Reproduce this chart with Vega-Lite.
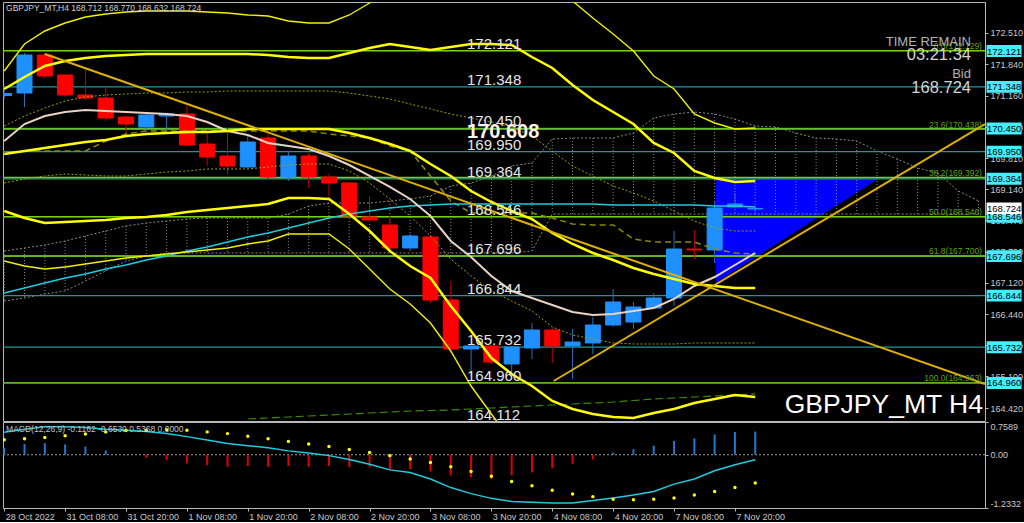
{
"$schema": "https://vega.github.io/schema/vega-lite/v6.json",
"background": "#000000",
"padding": {"left": 2, "top": 1, "right": 0, "bottom": 0},
"spacing": 1,
"bounds": "flush",
"config": {
  "view": {"stroke": "#b8b8b8", "strokeWidth": 1},
  "font": "Liberation Sans",
  "scale": {"continuousPadding": 0},
  "axis": {"labelFont": "Liberation Sans", "labelFontSize": 9, "labelColor": "#c8c8c8", "tickColor": "#b8b8b8", "domain": false, "grid": false, "tickSize": 3, "labelPadding": 2}
},
"datasets": {
  "candles": [
    {"k":-1,"o":171.150,"h":171.301,"l":171.086,"c":171.215},
    {"k":0,"o":171.215,"h":172.078,"l":170.913,"c":172.035},
    {"k":1,"o":172.035,"h":172.078,"l":171.539,"c":171.582},
    {"k":2,"o":171.603,"h":171.625,"l":171.129,"c":171.172},
    {"k":3,"o":171.172,"h":171.733,"l":171.064,"c":171.107},
    {"k":4,"o":171.107,"h":171.323,"l":170.611,"c":170.676},
    {"k":5,"o":170.697,"h":170.719,"l":170.331,"c":170.546},
    {"k":6,"o":170.482,"h":170.784,"l":170.439,"c":170.741},
    {"k":7,"o":170.719,"h":170.784,"l":170.331,"c":170.762},
    {"k":8,"o":170.762,"h":170.935,"l":170.072,"c":170.093},
    {"k":9,"o":170.115,"h":170.331,"l":169.640,"c":169.835},
    {"k":10,"o":169.856,"h":170.460,"l":169.468,"c":169.640},
    {"k":11,"o":169.619,"h":170.288,"l":169.576,"c":170.158},
    {"k":12,"o":170.244,"h":170.331,"l":169.360,"c":169.403},
    {"k":13,"o":169.403,"h":169.964,"l":169.317,"c":169.856},
    {"k":14,"o":169.856,"h":169.921,"l":169.166,"c":169.403},
    {"k":15,"o":169.403,"h":169.468,"l":168.950,"c":169.274},
    {"k":16,"o":169.274,"h":169.295,"l":168.519,"c":168.562},
    {"k":17,"o":168.540,"h":168.993,"l":168.432,"c":168.476},
    {"k":18,"o":168.368,"h":168.562,"l":167.764,"c":167.872},
    {"k":19,"o":167.872,"h":168.174,"l":167.829,"c":168.131},
    {"k":20,"o":168.109,"h":168.152,"l":166.685,"c":166.750},
    {"k":21,"o":166.750,"h":167.160,"l":165.607,"c":165.693},
    {"k":22,"o":165.693,"h":165.758,"l":165.111,"c":165.758},
    {"k":23,"o":165.758,"h":165.779,"l":165.370,"c":165.413},
    {"k":24,"o":165.370,"h":165.758,"l":165.175,"c":165.736},
    {"k":25,"o":165.715,"h":166.254,"l":165.477,"c":166.103},
    {"k":26,"o":166.103,"h":166.146,"l":165.391,"c":165.758},
    {"k":27,"o":165.758,"h":166.125,"l":165.046,"c":165.844},
    {"k":28,"o":165.823,"h":166.383,"l":165.585,"c":166.211},
    {"k":29,"o":166.211,"h":166.987,"l":166.168,"c":166.707},
    {"k":30,"o":166.275,"h":166.707,"l":166.125,"c":166.599},
    {"k":31,"o":166.578,"h":166.901,"l":166.556,"c":166.793},
    {"k":32,"o":166.793,"h":168.238,"l":166.621,"c":167.850},
    {"k":33,"o":167.850,"h":168.260,"l":167.634,"c":167.829},
    {"k":34,"o":167.829,"h":168.886,"l":167.548,"c":168.734},
    {"k":35,"o":168.756,"h":169.058,"l":168.734,"c":168.821},
    {"k":36,"o":168.712,"h":168.770,"l":168.632,"c":168.724}
  ],
  "ind": [
    {"k":-1,"L1":171.690,"L2":171.301,"L3":169.899,"L4":168.670,"L5":167.591,"P":170.180,"C":166.901,"D1":170.503,"D2":169.274,"DA":null,"DG":null},
    {"k":0,"L1":172.272,"L2":171.560,"L3":169.964,"L4":168.519,"L5":167.483,"P":170.546,"C":167.009,"D1":170.719,"D2":169.360,"DA":169.964,"DG":null},
    {"k":1,"L1":172.553,"L2":171.797,"L3":170.029,"L4":168.411,"L5":167.419,"P":170.719,"C":167.117,"D1":170.891,"D2":169.425,"DA":169.964,"DG":null},
    {"k":2,"L1":172.725,"L2":171.905,"L3":170.093,"L4":168.432,"L5":167.462,"P":170.805,"C":167.225,"D1":171.042,"D2":169.468,"DA":169.964,"DG":null},
    {"k":3,"L1":172.854,"L2":171.970,"L3":170.158,"L4":168.454,"L5":167.526,"P":170.848,"C":167.311,"D1":171.129,"D2":169.446,"DA":169.964,"DG":null},
    {"k":4,"L1":172.919,"L2":172.013,"L3":170.201,"L4":168.476,"L5":167.591,"P":170.827,"C":167.419,"D1":171.172,"D2":169.425,"DA":170.180,"DG":null},
    {"k":5,"L1":172.962,"L2":172.035,"L3":170.288,"L4":168.519,"L5":167.656,"P":170.805,"C":167.505,"D1":171.193,"D2":169.425,"DA":170.331,"DG":null},
    {"k":6,"L1":172.984,"L2":172.056,"L3":170.331,"L4":168.540,"L5":167.699,"P":170.784,"C":167.613,"D1":171.215,"D2":169.468,"DA":170.396,"DG":null},
    {"k":7,"L1":172.984,"L2":172.056,"L3":170.352,"L4":168.583,"L5":167.742,"P":170.762,"C":167.699,"D1":171.215,"D2":169.511,"DA":170.396,"DG":null},
    {"k":8,"L1":172.984,"L2":172.056,"L3":170.374,"L4":168.648,"L5":167.786,"P":170.719,"C":167.807,"D1":171.237,"D2":169.533,"DA":170.396,"DG":null},
    {"k":9,"L1":172.962,"L2":172.056,"L3":170.374,"L4":168.691,"L5":167.829,"P":170.590,"C":167.893,"D1":171.237,"D2":169.576,"DA":170.396,"DG":null},
    {"k":10,"L1":172.941,"L2":172.056,"L3":170.396,"L4":168.734,"L5":167.872,"P":170.396,"C":168.001,"D1":171.258,"D2":169.576,"DA":170.396,"DG":null},
    {"k":11,"L1":172.898,"L2":172.056,"L3":170.439,"L4":168.777,"L5":167.958,"P":170.309,"C":168.109,"D1":171.258,"D2":169.576,"DA":170.396,"DG":164.183},
    {"k":12,"L1":172.876,"L2":172.035,"L3":170.439,"L4":168.821,"L5":168.023,"P":170.137,"C":168.195,"D1":171.258,"D2":169.619,"DA":170.396,"DG":164.205},
    {"k":13,"L1":172.768,"L2":171.992,"L3":170.439,"L4":168.950,"L5":168.174,"P":170.072,"C":168.303,"D1":171.258,"D2":169.662,"DA":170.396,"DG":164.226},
    {"k":14,"L1":172.725,"L2":171.970,"L3":170.439,"L4":168.950,"L5":168.174,"P":170.007,"C":168.411,"D1":171.258,"D2":169.684,"DA":170.396,"DG":164.248},
    {"k":15,"L1":172.725,"L2":171.970,"L3":170.439,"L4":168.929,"L5":168.174,"P":169.856,"C":168.519,"D1":171.258,"D2":169.684,"DA":170.331,"DG":164.269},
    {"k":16,"L1":172.898,"L2":172.078,"L3":170.352,"L4":168.605,"L5":167.850,"P":169.662,"C":168.605,"D1":171.215,"D2":169.533,"DA":170.288,"DG":164.291},
    {"k":17,"L1":173.156,"L2":172.186,"L3":170.244,"L4":168.238,"L5":167.419,"P":169.425,"C":168.670,"D1":171.150,"D2":169.274,"DA":170.244,"DG":164.313},
    {"k":18,"L1":173.415,"L2":172.272,"L3":170.115,"L4":167.807,"L5":166.987,"P":169.188,"C":168.734,"D1":171.086,"D2":168.929,"DA":170.072,"DG":164.334},
    {"k":19,"L1":173.739,"L2":172.207,"L3":169.964,"L4":167.483,"L5":166.664,"P":168.929,"C":168.777,"D1":170.978,"D2":168.562,"DA":169.964,"DG":164.356},
    {"k":20,"L1":173.954,"L2":172.143,"L3":169.684,"L4":167.225,"L5":166.254,"P":168.562,"C":168.799,"D1":170.870,"D2":168.131,"DA":169.425,"DG":164.366},
    {"k":21,"L1":174.062,"L2":172.207,"L3":169.425,"L4":166.621,"L5":165.650,"P":168.023,"C":168.821,"D1":170.762,"D2":167.634,"DA":168.886,"DG":164.377},
    {"k":22,"L1":174.062,"L2":172.272,"L3":169.101,"L4":166.081,"L5":164.895,"P":167.678,"C":168.821,"D1":170.676,"D2":167.268,"DA":168.627,"DG":164.399},
    {"k":23,"L1":173.954,"L2":172.272,"L3":168.864,"L4":165.499,"L5":164.291,"P":167.268,"C":168.821,"D1":170.590,"D2":166.944,"DA":168.627,"DG":164.420},
    {"k":24,"L1":173.847,"L2":172.250,"L3":168.670,"L4":165.154,"L5":163.709,"P":166.944,"C":168.821,"D1":170.482,"D2":166.728,"DA":168.627,"DG":164.442},
    {"k":25,"L1":173.631,"L2":171.992,"L3":168.497,"L4":164.895,"L5":163.277,"P":166.793,"C":168.821,"D1":170.288,"D2":166.513,"DA":168.627,"DG":164.464},
    {"k":26,"L1":173.415,"L2":171.754,"L3":168.195,"L4":164.571,"L5":163.062,"P":166.642,"C":168.821,"D1":169.964,"D2":166.168,"DA":168.519,"DG":164.485},
    {"k":27,"L1":173.200,"L2":171.388,"L3":167.958,"L4":164.399,"L5":162.846,"P":166.491,"C":168.821,"D1":169.640,"D2":165.995,"DA":168.389,"DG":164.507},
    {"k":28,"L1":172.833,"L2":171.064,"L3":167.764,"L4":164.291,"L5":162.738,"P":166.427,"C":168.821,"D1":169.425,"D2":165.909,"DA":168.368,"DG":164.528},
    {"k":29,"L1":172.488,"L2":170.805,"L3":167.613,"L4":164.226,"L5":162.673,"P":166.448,"C":168.799,"D1":169.209,"D2":165.823,"DA":168.368,"DG":164.550},
    {"k":30,"L1":172.121,"L2":170.546,"L3":167.440,"L4":164.205,"L5":162.630,"P":166.513,"C":168.799,"D1":169.058,"D2":165.801,"DA":168.066,"DG":164.582},
    {"k":31,"L1":171.582,"L2":170.137,"L3":167.311,"L4":164.313,"L5":162.673,"P":166.578,"C":168.799,"D1":168.886,"D2":165.801,"DA":168.001,"DG":164.615},
    {"k":32,"L1":171.301,"L2":169.921,"L3":167.203,"L4":164.399,"L5":162.803,"P":166.772,"C":168.799,"D1":168.670,"D2":165.801,"DA":168.001,"DG":164.636},
    {"k":33,"L1":170.762,"L2":169.533,"L3":167.095,"L4":164.528,"L5":162.954,"P":167.052,"C":168.799,"D1":168.454,"D2":165.823,"DA":168.001,"DG":164.658},
    {"k":34,"L1":170.568,"L2":169.382,"L3":167.052,"L4":164.615,"L5":163.169,"P":167.246,"C":168.777,"D1":168.303,"D2":165.823,"DA":167.850,"DG":164.680},
    {"k":35,"L1":170.439,"L2":169.295,"L3":167.009,"L4":164.701,"L5":163.385,"P":167.505,"C":168.777,"D1":168.238,"D2":165.823,"DA":167.764,"DG":164.701},
    {"k":36,"L1":170.460,"L2":169.317,"L3":167.009,"L4":164.658,"L5":163.536,"P":167.764,"C":168.756,"D1":168.238,"D2":165.823,"DA":167.742,"DG":164.723}
  ],
  "cloud": [
    {"k":-1,"top":167.807,"bot":166.728},{"k":0,"top":167.872,"bot":166.793},{"k":1,"top":167.936,"bot":166.879},
    {"k":2,"top":168.023,"bot":166.944},{"k":3,"top":168.131,"bot":167.160},{"k":4,"top":168.238,"bot":167.376},
    {"k":5,"top":168.346,"bot":167.591},{"k":6,"top":168.411,"bot":167.699},{"k":7,"top":168.454,"bot":167.764},
    {"k":8,"top":168.497,"bot":167.764},{"k":9,"top":168.519,"bot":167.764},{"k":10,"top":168.519,"bot":167.764},
    {"k":11,"top":168.519,"bot":167.764},{"k":12,"top":168.519,"bot":167.764},{"k":13,"top":168.605,"bot":167.764},
    {"k":14,"top":168.777,"bot":167.764},{"k":15,"top":168.842,"bot":167.764},{"k":16,"top":168.842,"bot":167.764},
    {"k":17,"top":168.842,"bot":167.764},{"k":18,"top":168.886,"bot":167.764},{"k":19,"top":168.929,"bot":167.764},
    {"k":20,"top":168.993,"bot":167.764},{"k":21,"top":169.209,"bot":167.764},{"k":22,"top":169.274,"bot":167.764},
    {"k":23,"top":169.425,"bot":167.764},{"k":24,"top":169.640,"bot":167.764},{"k":25,"top":169.705,"bot":167.807},
    {"k":26,"top":170.223,"bot":168.605},{"k":27,"top":170.244,"bot":168.605},{"k":28,"top":170.244,"bot":168.605},
    {"k":29,"top":170.244,"bot":168.605},{"k":30,"top":170.352,"bot":168.605},{"k":31,"top":170.676,"bot":168.605},
    {"k":32,"top":170.762,"bot":168.605},{"k":33,"top":170.805,"bot":168.605},{"k":34,"top":170.762,"bot":168.605},
    {"k":35,"top":170.654,"bot":168.605},{"k":36,"top":170.503,"bot":168.605},{"k":37,"top":170.482,"bot":168.605},
    {"k":38,"top":170.352,"bot":168.605},{"k":39,"top":170.244,"bot":168.605},{"k":40,"top":170.223,"bot":168.605},
    {"k":41,"top":170.180,"bot":168.605},{"k":42,"top":169.964,"bot":168.605},{"k":43,"top":169.791,"bot":168.605},
    {"k":44,"top":169.597,"bot":168.605},{"k":45,"top":169.489,"bot":168.605},{"k":46,"top":169.101,"bot":168.605},
    {"k":47,"top":168.886,"bot":168.605}
  ],
  "macd": [
    {"k":-1,"h":0.16,"m":0.52,"s":0.35},{"k":0,"h":0.25,"m":0.59,"s":0.37},{"k":1,"h":0.27,"m":0.65,"s":0.40},
    {"k":2,"h":0.24,"m":0.65,"s":0.44},{"k":3,"h":0.19,"m":0.63,"s":0.48},{"k":4,"h":0.10,"m":0.59,"s":0.53},
    {"k":5,"h":-0.01,"m":0.57,"s":0.56},{"k":6,"h":-0.07,"m":0.54,"s":0.57},{"k":7,"h":-0.12,"m":0.49,"s":0.58},
    {"k":8,"h":-0.20,"m":0.42,"s":0.57},{"k":9,"h":-0.24,"m":0.34,"s":0.53},{"k":10,"h":-0.28,"m":0.26,"s":0.49},
    {"k":11,"h":-0.26,"m":0.21,"s":0.43},{"k":12,"h":-0.28,"m":0.16,"s":0.37},{"k":13,"h":-0.26,"m":0.09,"s":0.31},
    {"k":14,"h":-0.28,"m":0.04,"s":0.25},{"k":15,"h":-0.26,"m":-0.02,"s":0.19},{"k":16,"h":-0.29,"m":-0.11,"s":0.12},
    {"k":17,"h":-0.29,"m":-0.22,"s":0.05},{"k":18,"h":-0.35,"m":-0.35,"s":-0.02},{"k":19,"h":-0.33,"m":-0.41,"s":-0.10},
    {"k":20,"h":-0.39,"m":-0.56,"s":-0.18},{"k":21,"h":-0.48,"m":-0.76,"s":-0.28},{"k":22,"h":-0.52,"m":-0.90,"s":-0.39},
    {"k":23,"h":-0.56,"m":-1.01,"s":-0.50},{"k":24,"h":-0.48,"m":-1.08,"s":-0.62},{"k":25,"h":-0.41,"m":-1.10,"s":-0.72},
    {"k":26,"h":-0.31,"m":-1.12,"s":-0.82},{"k":27,"h":-0.21,"m":-1.12,"s":-0.91},{"k":28,"h":-0.11,"m":-1.06,"s":-0.97},
    {"k":29,"h":0.05,"m":-1.00,"s":-1.03},{"k":30,"h":0.13,"m":-0.93,"s":-1.04},{"k":31,"h":0.21,"m":-0.85,"s":-1.03},
    {"k":32,"h":0.32,"m":-0.68,"s":-1.00},{"k":33,"h":0.38,"m":-0.56,"s":-0.93},{"k":34,"h":0.47,"m":-0.37,"s":-0.85},
    {"k":35,"h":0.53,"m":-0.23,"s":-0.76},{"k":36,"h":0.5368,"m":-0.1162,"s":-0.653}
  ]
},
"vconcat": [
{
  "width": 982, "height": 419,
  "resolve": {"axis": {"x": "independent", "y": "independent"}},
  "layer": [
    {"data": {"values": [{"k":34.05,"p":169.364,"p2":167.117},{"k":42.07,"p":169.364,"p2":169.364}]},
     "mark": {"type": "area", "color": "#0000ff", "opacity": 1, "clip": true},
     "encoding": {
       "x": {"field": "k", "type": "quantitative", "scale": {"domain": [-1.06, 47.32], "nice": false, "zero": false, "padding": 0}, "axis": null},
       "y": {"field": "p", "type": "quantitative", "scale": {"domain": [164.14, 173.178], "nice": false, "zero": false}, "axis": null},
       "y2": {"field": "p2"}}},
    {"data": {"name": "cloud"},
     "mark": {"type": "rule", "color": "#8a8a8a", "strokeWidth": 1, "strokeDash": [1, 2], "clip": true},
     "encoding": {
       "x": {"field": "k", "type": "quantitative", "scale": {"domain": [-1.06, 47.32], "nice": false, "zero": false, "padding": 0}, "axis": null},
       "y": {"field": "top", "type": "quantitative", "scale": {"domain": [164.14, 173.178], "nice": false, "zero": false}, "axis": null},
       "y2": {"field": "bot"}}},
    {"data": {"name": "cloud"},
     "transform": [{"fold": ["top", "bot"], "as": ["s", "v"]}],
     "mark": {"type": "line", "color": "#8a8a8a", "strokeWidth": 1, "strokeDash": [2, 2], "clip": true},
     "encoding": {
       "x": {"field": "k", "type": "quantitative", "scale": {"domain": [-1.06, 47.32], "nice": false, "zero": false, "padding": 0}, "axis": null},
       "y": {"field": "v", "type": "quantitative", "scale": {"domain": [164.14, 173.178], "nice": false, "zero": false}, "axis": null},
       "detail": {"field": "s"}}},
    {"data": {"values": [{"p":172.121},{"p":171.348},{"p":170.450},{"p":169.950},{"p":169.364},{"p":168.546},{"p":167.696},{"p":166.844},{"p":165.732},{"p":164.960}]},
     "mark": {"type": "rule", "color": "#1a9a9a", "strokeWidth": 1.2, "clip": true},
     "encoding": {"y": {"field": "p", "type": "quantitative", "scale": {"domain": [164.14, 173.178], "nice": false, "zero": false}, "axis": null}}},
    {"data": {"values": [{"p":172.129},{"p":170.438},{"p":169.392},{"p":168.546},{"p":167.700},{"p":164.963}]},
     "mark": {"type": "rule", "color": "#7ccf0a", "strokeWidth": 1.4, "clip": true},
     "encoding": {"y": {"field": "p", "type": "quantitative", "scale": {"domain": [164.14, 173.178], "nice": false, "zero": false}, "axis": null}}},
    {"data": {"name": "candles"},
     "mark": {"type": "rule", "strokeWidth": 1, "clip": true},
     "encoding": {
       "x": {"field": "k", "type": "quantitative", "scale": {"domain": [-1.06, 47.32], "nice": false, "zero": false, "padding": 0}, "axis": null},
       "y": {"field": "l", "type": "quantitative", "scale": {"domain": [164.14, 173.178], "nice": false, "zero": false},
             "axis": {"orient": "right", "title": null, "values": [172.51, 171.84, 171.16, 170.48, 169.81, 169.14, 168.47, 167.79, 167.12, 166.44, 165.77, 165.1, 164.42], "labelExpr": "format(datum.value, '.3f')"}},
       "y2": {"field": "h"},
       "color": {"condition": {"test": "datum.c >= datum.o", "value": "#2a6fb8"}, "value": "#c00000"}}},
    {"data": {"name": "candles"},
     "transform": [{"filter": "datum.k >= 0"}],
     "mark": {"type": "bar", "size": 15, "strokeWidth": 1, "clip": true},
     "encoding": {
       "x": {"field": "k", "type": "quantitative", "scale": {"domain": [-1.06, 47.32], "nice": false, "zero": false, "padding": 0}, "axis": null},
       "y": {"field": "o", "type": "quantitative", "scale": {"domain": [164.14, 173.178], "nice": false, "zero": false}, "axis": null},
       "y2": {"field": "c"},
       "color": {"condition": {"test": "datum.c >= datum.o", "value": "#1e90ff"}, "value": "#ff0000"},
       "stroke": {"condition": {"test": "datum.c >= datum.o", "value": "#1e90ff"}, "value": "#ff0000"}}},
    {"data": {"values": [{"k1": -1.06, "k2": -0.62, "o": 171.150, "c": 171.215}]},
     "mark": {"type": "rect", "color": "#1e90ff", "clip": true},
     "encoding": {
       "x": {"field": "k1", "type": "quantitative", "scale": {"domain": [-1.06, 47.32], "nice": false, "zero": false, "padding": 0}, "axis": null},
       "x2": {"field": "k2"},
       "y": {"field": "o", "type": "quantitative", "scale": {"domain": [164.14, 173.178], "nice": false, "zero": false}, "axis": null},
       "y2": {"field": "c"}}},
    {"data": {"name": "ind"},
     "transform": [{"fold": ["D1", "D2"], "as": ["s", "v"]}, {"filter": "isValid(datum.v)"}],
     "mark": {"type": "line", "color": "#a0a000", "strokeWidth": 1, "strokeDash": [2, 2], "clip": true},
     "encoding": {
       "x": {"field": "k", "type": "quantitative", "scale": {"domain": [-1.06, 47.32], "nice": false, "zero": false, "padding": 0}, "axis": null},
       "y": {"field": "v", "type": "quantitative", "scale": {"domain": [164.14, 173.178], "nice": false, "zero": false}, "axis": null},
       "detail": {"field": "s"}}},
    {"data": {"name": "ind"},
     "transform": [{"fold": ["DA"], "as": ["s", "v"]}, {"filter": "isValid(datum.v)"}],
     "mark": {"type": "line", "color": "#8a8a00", "strokeWidth": 1.5, "strokeDash": [6, 4], "clip": true},
     "encoding": {
       "x": {"field": "k", "type": "quantitative", "scale": {"domain": [-1.06, 47.32], "nice": false, "zero": false, "padding": 0}, "axis": null},
       "y": {"field": "v", "type": "quantitative", "scale": {"domain": [164.14, 173.178], "nice": false, "zero": false}, "axis": null}}},
    {"data": {"name": "ind"},
     "transform": [{"fold": ["DG"], "as": ["s", "v"]}, {"filter": "isValid(datum.v)"}],
     "mark": {"type": "line", "color": "#3a8a00", "strokeWidth": 1.2, "strokeDash": [8, 4], "clip": true},
     "encoding": {
       "x": {"field": "k", "type": "quantitative", "scale": {"domain": [-1.06, 47.32], "nice": false, "zero": false, "padding": 0}, "axis": null},
       "y": {"field": "v", "type": "quantitative", "scale": {"domain": [164.14, 173.178], "nice": false, "zero": false}, "axis": null}}},
    {"data": {"name": "ind"},
     "transform": [{"fold": ["C"], "as": ["s", "v"]}],
     "mark": {"type": "line", "color": "#1ecbe1", "strokeWidth": 1.5, "clip": true},
     "encoding": {
       "x": {"field": "k", "type": "quantitative", "scale": {"domain": [-1.06, 47.32], "nice": false, "zero": false, "padding": 0}, "axis": null},
       "y": {"field": "v", "type": "quantitative", "scale": {"domain": [164.14, 173.178], "nice": false, "zero": false}, "axis": null}}},
    {"data": {"name": "ind"},
     "transform": [{"fold": ["P"], "as": ["s", "v"]}],
     "mark": {"type": "line", "color": "#e8d2c4", "strokeWidth": 2, "clip": true},
     "encoding": {
       "x": {"field": "k", "type": "quantitative", "scale": {"domain": [-1.06, 47.32], "nice": false, "zero": false, "padding": 0}, "axis": null},
       "y": {"field": "v", "type": "quantitative", "scale": {"domain": [164.14, 173.178], "nice": false, "zero": false}, "axis": null}}},
    {"data": {"name": "ind"},
     "transform": [{"fold": ["L1", "L5"], "as": ["s", "v"]}],
     "mark": {"type": "line", "color": "#f0f000", "strokeWidth": 1.4, "clip": true},
     "encoding": {
       "x": {"field": "k", "type": "quantitative", "scale": {"domain": [-1.06, 47.32], "nice": false, "zero": false, "padding": 0}, "axis": null},
       "y": {"field": "v", "type": "quantitative", "scale": {"domain": [164.14, 173.178], "nice": false, "zero": false}, "axis": null},
       "detail": {"field": "s"}}},
    {"data": {"name": "ind"},
     "transform": [{"fold": ["L2", "L3", "L4"], "as": ["s", "v"]}],
     "mark": {"type": "line", "color": "#ffff00", "strokeWidth": 2.5, "clip": true},
     "encoding": {
       "x": {"field": "k", "type": "quantitative", "scale": {"domain": [-1.06, 47.32], "nice": false, "zero": false, "padding": 0}, "axis": null},
       "y": {"field": "v", "type": "quantitative", "scale": {"domain": [164.14, 173.178], "nice": false, "zero": false}, "axis": null},
       "detail": {"field": "s"}}},
    {"data": {"values": [{"k":1,"p":172.056,"s":"TD"},{"k":47.32,"p":164.938,"s":"TD"},{"k":26.07,"p":165.003,"s":"TU"},{"k":47.32,"p":170.546,"s":"TU"}]},
     "mark": {"type": "line", "color": "#e0b000", "strokeWidth": 2, "clip": true},
     "encoding": {
       "x": {"field": "k", "type": "quantitative", "scale": {"domain": [-1.06, 47.32], "nice": false, "zero": false, "padding": 0}, "axis": null},
       "y": {"field": "p", "type": "quantitative", "scale": {"domain": [164.14, 173.178], "nice": false, "zero": false}, "axis": null},
       "detail": {"field": "s"}}},
    {"data": {"values": [{"k":21.8,"p":172.121,"t":"172.121"},{"k":21.8,"p":171.348,"t":"171.348"},{"k":21.8,"p":170.450,"t":"170.450"},{"k":21.8,"p":169.950,"t":"169.950"},{"k":21.8,"p":169.364,"t":"169.364"},{"k":21.8,"p":168.546,"t":"168.546"},{"k":21.8,"p":167.696,"t":"167.696"},{"k":21.8,"p":166.844,"t":"166.844"},{"k":21.8,"p":165.732,"t":"165.732"},{"k":21.8,"p":164.960,"t":"164.960"},{"k":21.8,"p":164.112,"t":"164.112"}]},
     "mark": {"type": "text", "align": "left", "baseline": "alphabetic", "dy": -2, "fontSize": 15, "color": "#e6e6e6", "clip": true},
     "encoding": {
       "x": {"field": "k", "type": "quantitative", "scale": {"domain": [-1.06, 47.32], "nice": false, "zero": false, "padding": 0}, "axis": null},
       "y": {"field": "p", "type": "quantitative", "scale": {"domain": [164.14, 173.178], "nice": false, "zero": false}, "axis": null},
       "text": {"field": "t"}}},
    {"data": {"values": [{"k":21.8,"p":170.244,"t":"170.608"}]},
     "mark": {"type": "text", "align": "left", "baseline": "alphabetic", "fontSize": 20, "fontWeight": "bold", "color": "#fff4e8", "clip": true},
     "encoding": {
       "x": {"field": "k", "type": "quantitative", "scale": {"domain": [-1.06, 47.32], "nice": false, "zero": false, "padding": 0}, "axis": null},
       "y": {"field": "p", "type": "quantitative", "scale": {"domain": [164.14, 173.178], "nice": false, "zero": false}, "axis": null},
       "text": {"field": "t"}}},
    {"data": {"values": [{"k":47.17,"p":172.129,"t":"0.0(172.129)"},{"k":47.17,"p":170.438,"t":"23.6(170.438)"},{"k":47.17,"p":169.392,"t":"38.2(169.392)"},{"k":47.17,"p":168.546,"t":"50.0(168.546)"},{"k":47.17,"p":167.700,"t":"61.8(167.700)"},{"k":47.17,"p":164.963,"t":"100.0(164.963)"}]},
     "mark": {"type": "text", "align": "right", "baseline": "alphabetic", "dy": -1.5, "fontSize": 8.5, "color": "#5fa010", "clip": true},
     "encoding": {
       "x": {"field": "k", "type": "quantitative", "scale": {"domain": [-1.06, 47.32], "nice": false, "zero": false, "padding": 0}, "axis": null},
       "y": {"field": "p", "type": "quantitative", "scale": {"domain": [164.14, 173.178], "nice": false, "zero": false}, "axis": null},
       "text": {"field": "t"}}},
    {"data": {"values": [{"k":-0.91,"p":172.984,"t":"GBPJPY_MT,H4  168.712 168.770 168.632 168.724"}]},
     "mark": {"type": "text", "align": "left", "baseline": "alphabetic", "fontSize": 8.5, "color": "#d0d0d0", "clip": true},
     "encoding": {
       "x": {"field": "k", "type": "quantitative", "scale": {"domain": [-1.06, 47.32], "nice": false, "zero": false, "padding": 0}, "axis": null},
       "y": {"field": "p", "type": "quantitative", "scale": {"domain": [164.14, 173.178], "nice": false, "zero": false}, "axis": null},
       "text": {"field": "t"}}},
    {"data": {"values": [{"k":46.63,"p":172.229,"t":"TIME REMAIN"},{"k":46.63,"p":171.539,"t":"Bid"}]},
     "mark": {"type": "text", "align": "right", "baseline": "alphabetic", "fontSize": 13, "color": "#b4b4b4", "clip": true},
     "encoding": {
       "x": {"field": "k", "type": "quantitative", "scale": {"domain": [-1.06, 47.32], "nice": false, "zero": false, "padding": 0}, "axis": null},
       "y": {"field": "p", "type": "quantitative", "scale": {"domain": [164.14, 173.178], "nice": false, "zero": false}, "axis": null},
       "text": {"field": "t"}}},
    {"data": {"values": [{"k":46.63,"p":171.927,"t":"03:21:34"},{"k":46.63,"p":171.215,"t":"168.724"}]},
     "mark": {"type": "text", "align": "right", "baseline": "alphabetic", "fontSize": 16.5, "color": "#d4d4d4", "clip": true},
     "encoding": {
       "x": {"field": "k", "type": "quantitative", "scale": {"domain": [-1.06, 47.32], "nice": false, "zero": false, "padding": 0}, "axis": null},
       "y": {"field": "p", "type": "quantitative", "scale": {"domain": [164.14, 173.178], "nice": false, "zero": false}, "axis": null},
       "text": {"field": "t"}}},
    {"data": {"values": [{"k":47.22,"p":164.313,"t":"GBPJPY_MT H4"}]},
     "mark": {"type": "text", "align": "right", "baseline": "alphabetic", "fontSize": 26.5, "color": "#ffffff", "clip": true},
     "encoding": {
       "x": {"field": "k", "type": "quantitative", "scale": {"domain": [-1.06, 47.32], "nice": false, "zero": false, "padding": 0}, "axis": null},
       "y": {"field": "p", "type": "quantitative", "scale": {"domain": [164.14, 173.178], "nice": false, "zero": false}, "axis": null},
       "text": {"field": "t"}}},
    {"data": {"values": [{"k":48.26,"p":172.121},{"k":48.26,"p":171.348},{"k":48.26,"p":170.450},{"k":48.26,"p":169.950},{"k":48.26,"p":169.364},{"k":48.26,"p":168.546},{"k":48.26,"p":167.696},{"k":48.26,"p":166.844},{"k":48.26,"p":165.732},{"k":48.26,"p":164.960}]},
     "mark": {"type": "point", "shape": "M-1,-0.34H1V0.34H-1Z", "filled": true, "size": 1225, "color": "#44eeff", "opacity": 1, "strokeWidth": 0},
     "encoding": {
       "x": {"field": "k", "type": "quantitative", "scale": {"domain": [-1.06, 47.32], "nice": false, "zero": false, "padding": 0}, "axis": null},
       "y": {"field": "p", "type": "quantitative", "scale": {"domain": [164.14, 173.178], "nice": false, "zero": false}, "axis": null}}},
    {"data": {"values": [{"k":48.26,"p":168.724}]},
     "mark": {"type": "point", "shape": "M-1,-0.34H1V0.34H-1Z", "filled": true, "size": 1225, "color": "#ffffff", "opacity": 1, "strokeWidth": 0},
     "encoding": {
       "x": {"field": "k", "type": "quantitative", "scale": {"domain": [-1.06, 47.32], "nice": false, "zero": false, "padding": 0}, "axis": null},
       "y": {"field": "p", "type": "quantitative", "scale": {"domain": [164.14, 173.178], "nice": false, "zero": false}, "axis": null}}},
    {"data": {"values": [{"k":48.26,"p":172.121,"t":"172.121"},{"k":48.26,"p":171.348,"t":"171.348"},{"k":48.26,"p":170.450,"t":"170.450"},{"k":48.26,"p":169.950,"t":"169.950"},{"k":48.26,"p":169.364,"t":"169.364"},{"k":48.26,"p":168.546,"t":"168.546"},{"k":48.26,"p":167.696,"t":"167.696"},{"k":48.26,"p":166.844,"t":"166.844"},{"k":48.26,"p":165.732,"t":"165.732"},{"k":48.26,"p":164.960,"t":"164.960"},{"k":48.26,"p":168.724,"t":"168.724"}]},
     "mark": {"type": "text", "align": "center", "baseline": "middle", "dy": 0.5, "fontSize": 9.5, "color": "#000000"},
     "encoding": {
       "x": {"field": "k", "type": "quantitative", "scale": {"domain": [-1.06, 47.32], "nice": false, "zero": false, "padding": 0}, "axis": null},
       "y": {"field": "p", "type": "quantitative", "scale": {"domain": [164.14, 173.178], "nice": false, "zero": false}, "axis": null},
       "text": {"field": "t"}}}
  ]
},
{
  "width": 982, "height": 86,
  "resolve": {"axis": {"x": "independent", "y": "independent"}},
  "layer": [
    {"data": {"values": [{"v": 0}]},
     "mark": {"type": "rule", "color": "#9a9a9a", "strokeWidth": 1, "strokeDash": [2, 2], "clip": true},
     "encoding": {"y": {"field": "v", "type": "quantitative", "scale": {"domain": [-1.2332, 0.7589], "nice": false, "zero": false}, "axis": null}}},
    {"data": {"name": "macd"},
     "mark": {"type": "rule", "strokeWidth": 2, "clip": true},
     "encoding": {
       "x": {"field": "k", "type": "quantitative", "scale": {"domain": [-1.06, 47.32], "nice": false, "zero": false, "padding": 0},
             "axis": {"orient": "bottom", "title": null, "values": [-1, 2, 5, 8, 11, 14, 17, 20, 23, 26, 29, 32, 35],
                      "labelExpr": "['28 Oct 2022','31 Oct 08:00','31 Oct 20:00','1 Nov 08:00','1 Nov 20:00','2 Nov 08:00','2 Nov 20:00','3 Nov 08:00','3 Nov 20:00','4 Nov 08:00','4 Nov 20:00','7 Nov 08:00','7 Nov 20:00'][round((datum.value + 1) / 3)]",
                      "labelAlign": "left", "labelBaseline": "top", "labelFlush": false, "labelOverlap": false, "labelPadding": 1, "tickSize": 3, "labelOffset": 1}},
       "y": {"field": "h", "type": "quantitative", "scale": {"domain": [-1.2332, 0.7589], "nice": false, "zero": false},
             "axis": {"orient": "right", "title": null, "values": [0.7589, 0, -1.2332], "labelFlush": true,
                      "labelExpr": "datum.value == 0 ? '0.00' : replace(format(datum.value, '.4f'), '\u2212', '-')"}},
       "y2": {"datum": 0},
       "color": {"condition": {"test": "datum.h >= 0", "value": "#1f78d1"}, "value": "#e00000"}}},
    {"data": {"name": "macd"},
     "mark": {"type": "line", "color": "#1ecbe1", "strokeWidth": 1.5, "clip": true},
     "encoding": {
       "x": {"field": "k", "type": "quantitative", "scale": {"domain": [-1.06, 47.32], "nice": false, "zero": false, "padding": 0}, "axis": null},
       "y": {"field": "m", "type": "quantitative", "scale": {"domain": [-1.2332, 0.7589], "nice": false, "zero": false}, "axis": null}}},
    {"data": {"name": "macd"},
     "mark": {"type": "circle", "color": "#ffff00", "size": 12, "opacity": 1, "clip": true},
     "encoding": {
       "x": {"field": "k", "type": "quantitative", "scale": {"domain": [-1.06, 47.32], "nice": false, "zero": false, "padding": 0}, "axis": null},
       "y": {"field": "s", "type": "quantitative", "scale": {"domain": [-1.2332, 0.7589], "nice": false, "zero": false}, "axis": null}}},
    {"data": {"values": [{"k": -0.91, "v": 0.527, "t": "MACD(12,26,9) -0.1162 -0.6530 0.5368 0.0000"}]},
     "mark": {"type": "text", "align": "left", "baseline": "alphabetic", "fontSize": 8.5, "color": "#c0c0c0", "clip": true},
     "encoding": {
       "x": {"field": "k", "type": "quantitative", "scale": {"domain": [-1.06, 47.32], "nice": false, "zero": false, "padding": 0}, "axis": null},
       "y": {"field": "v", "type": "quantitative", "scale": {"domain": [-1.2332, 0.7589], "nice": false, "zero": false}, "axis": null},
       "text": {"field": "t"}}}
  ]
}
]
}
